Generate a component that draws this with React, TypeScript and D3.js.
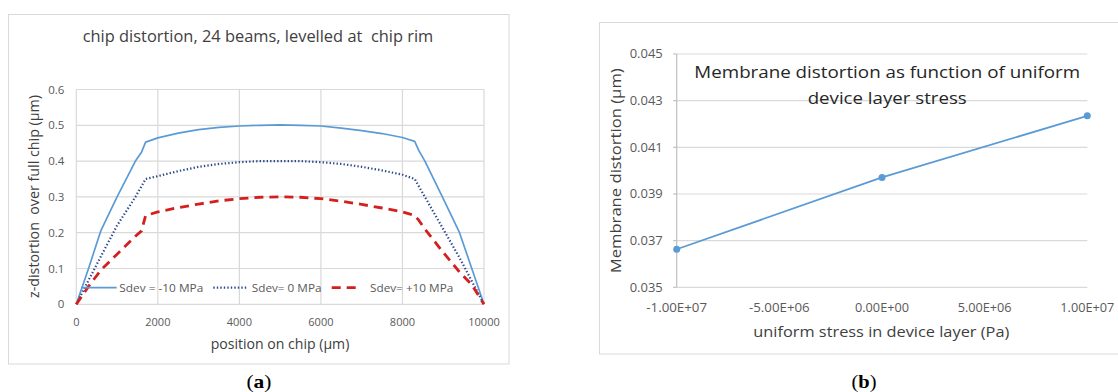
import React from "react";
import * as d3 from "d3";

// Panel (a): chip distortion profiles
const positions = [0, 300, 600, 1000, 1450, 1600, 1700, 2000, 2500, 3000, 3500, 4000, 4500, 5000, 5500, 6000, 6500, 7000, 7500, 8000, 8300, 8400, 8550, 9000, 9400, 9700, 10000];
const sdevMinus10 = [0, 0.10, 0.205, 0.30, 0.40, 0.425, 0.453, 0.465, 0.478, 0.488, 0.494, 0.498, 0.5, 0.501, 0.5, 0.498, 0.492, 0.485, 0.477, 0.466, 0.455, 0.43, 0.40, 0.295, 0.20, 0.10, 0];
const sdevZero = [0, 0.067, 0.133, 0.22, 0.30, 0.33, 0.35, 0.358, 0.372, 0.384, 0.392, 0.397, 0.4, 0.4, 0.4, 0.397, 0.392, 0.384, 0.374, 0.362, 0.35, 0.33, 0.30, 0.21, 0.13, 0.065, 0];
const sdevPlus10 = [0, 0.05, 0.095, 0.14, 0.19, 0.205, 0.248, 0.258, 0.27, 0.28, 0.289, 0.295, 0.299, 0.3, 0.299, 0.295, 0.288, 0.279, 0.269, 0.258, 0.248, 0.235, 0.21, 0.145, 0.09, 0.055, 0];
const seriesNames = ["Sdev = -10 MPa", "Sdev= 0 MPa", "Sdev= +10 MPa"];
const xTicksA = [0, 2000, 4000, 6000, 8000, 10000];
const yTicksA = [0, 0.1, 0.2, 0.3, 0.4, 0.5, 0.6];

// Panel (b): membrane distortion vs uniform stress
const stress = [-1e7, 0, 1e7];
const membrane = [0.03663, 0.03971, 0.04235];
const xTicksB = [-1e7, -5e6, 0, 5e6, 1e7];
const xTickLabelsB = ["-1.00E+07", "-5.00E+06", "0.00E+00", "5.00E+06", "1.00E+07"];
const yTicksB = [0.035, 0.037, 0.039, 0.041, 0.043, 0.045];

const FONT = "'Open Sans', Lato, sans-serif";
const GRID = "#d9d9d9";

type TProps = {
  x: number; y: number; s: string; size: number; w?: number;
  anchor?: "start" | "middle" | "end"; fill?: string; rotate?: boolean;
};

function T({ x, y, s, size, w, anchor = "middle", fill = "#404040", rotate }: TProps) {
  return (
    <text
      x={x}
      y={y}
      fontSize={size}
      fontFamily={FONT}
      textAnchor={anchor}
      fill={fill}
      style={{ whiteSpace: "pre" }}
      dominantBaseline={rotate ? "central" : undefined}
      transform={rotate ? `rotate(-90 ${x} ${y})` : undefined}
      textLength={w}
      lengthAdjust={w ? "spacingAndGlyphs" : undefined}
    >
      {s}
    </text>
  );
}

export default function App() {
  // ---- panel (a) scales
  const xA = d3.scaleLinear().domain([0, 10000]).range([76.3, 484]);
  const yA = d3.scaleLinear().domain([0, 0.6]).range([304.3, 89.5]);
  const lineA = (vals: number[]) =>
    d3.line<number>().x((_, i) => xA(positions[i])).y((v) => yA(v))(vals) || "";

  const styles = [
    { stroke: "#5b9bd5", width: 1.7, dash: undefined as string | undefined, cap: "butt" },
    { stroke: "#2e4b8f", width: 2.2, dash: "1.4 2.1", cap: "butt" },
    { stroke: "#d41f1f", width: 2.8, dash: "9 6", cap: "butt" },
  ];
  const seriesA = [sdevMinus10, sdevZero, sdevPlus10];
  const legendLines = [[81, 116.7], [213.3, 246.4], [331.7, 360]];
  const legendText = [[119.3, 84], [251.8, 69.7], [370, 83.3]];
  const legendY = 287.7;

  // ---- panel (b) scales
  const xB = d3.scaleLinear().domain([-1e7, 1e7]).range([676.7, 1087.3]);
  const yB = d3.scaleLinear().domain([0.035, 0.045]).range([287.3, 54]);
  const lineB = d3.line<number>().x((_, i) => xB(stress[i])).y((v) => yB(v))(membrane) || "";

  return (
    <svg width={1118} height={392} style={{ position: "absolute", left: 0, top: 0, background: "#fff" }}>
      {/* ================= panel (a) ================= */}
      <rect x={8.5} y={14.5} width={500.5} height={349.5} fill="#fff" stroke={GRID} strokeWidth={1} />
      <T x={258} y={42.3} s="chip distortion, 24 beams, levelled at  chip rim" size={16.5} w={350.6} />

      {yTicksA.map((t) => (
        <line key={"gy" + t} x1={xA(0)} x2={xA(10000)} y1={yA(t)} y2={yA(t)} stroke={GRID} strokeWidth={1.2} />
      ))}
      {xTicksA.map((t) => (
        <line key={"gx" + t} x1={xA(t)} x2={xA(t)} y1={yA(0)} y2={yA(0.6)} stroke={GRID} strokeWidth={1.2} />
      ))}
      {yTicksA.map((t) => (
        <T key={"ly" + t} x={64.3} y={yA(t) + 4} s={String(+t.toFixed(1))} size={11.5} anchor="end" fill="#595959" />
      ))}
      {xTicksA.map((t) => (
        <T key={"lx" + t} x={xA(t)} y={326} s={String(t)} size={11.5} fill="#595959" w={String(t).length * 6.3} />
      ))}

      {seriesA.map((vals, i) => (
        <path key={"s" + i} d={lineA(vals)} fill="none" stroke={styles[i].stroke} strokeWidth={styles[i].width}
          strokeDasharray={styles[i].dash} strokeLinejoin="round" />
      ))}

      {seriesNames.map((name, i) => (
        <g key={"lg" + i}>
          <line x1={legendLines[i][0]} x2={legendLines[i][1]} y1={legendY} y2={legendY} stroke={styles[i].stroke}
            strokeWidth={styles[i].width} strokeDasharray={styles[i].dash} />
          <T x={legendText[i][0]} y={legendY + 4.2} s={name} size={11.5} anchor="start" fill="#595959" w={legendText[i][1]} />
        </g>
      ))}

      <T x={280} y={349} s="position on chip (µm)" size={14.5} w={138.6} />
      <T x={33} y={196.5} s="z-distortion  over full chip (µm)" size={14.5} w={203} rotate />

      <text x={259} y={388} fontSize={19} fontFamily="'Liberation Serif', serif" textAnchor="middle" fill="#000"
        textLength={25} lengthAdjust="spacingAndGlyphs">
        (<tspan fontWeight="bold">a</tspan>)
      </text>

      {/* ================= panel (b) ================= */}
      <rect x={599.5} y={22.5} width={540} height={331.5} fill="#fff" stroke={GRID} strokeWidth={1} />

      {yTicksB.map((t) => (
        <line key={"gby" + t} x1={xB(-1e7)} x2={xB(1e7)} y1={yB(t)} y2={yB(t)} stroke={GRID} strokeWidth={1.2} />
      ))}
      <line x1={xB(-1e7)} x2={xB(-1e7)} y1={yB(0.045)} y2={yB(0.035)} stroke="#bfbfbf" strokeWidth={1.2} />
      {yTicksB.map((t) => (
        <line key={"tby" + t} x1={xB(-1e7) - 3.5} x2={xB(-1e7)} y1={yB(t)} y2={yB(t)} stroke="#bfbfbf" strokeWidth={1.2} />
      ))}
      {yTicksB.map((t) => (
        <T key={"lby" + t} x={662.7} y={yB(t) + 4.2} s={t.toFixed(3)} size={12} anchor="end" fill="#595959" w={33} />
      ))}
      {xTicksB.map((t, i) => (
        <T key={"lbx" + t} x={xB(t)} y={311.7} s={xTickLabelsB[i]} size={12} fill="#595959"
          w={xTickLabelsB[i].length * 6.75} />
      ))}

      <path d={lineB} fill="none" stroke="#5b9bd5" strokeWidth={1.8} />
      {membrane.map((v, i) => (
        <circle key={"pt" + i} cx={xB(stress[i])} cy={yB(v)} r={3.5} fill="#5b9bd5" />
      ))}

      <T x={887.2} y={78.3} s="Membrane distortion as function of uniform" size={17} w={385.7} fill="#262626" />
      <T x={887.2} y={104} s="device layer stress" size={17} w={159} fill="#262626" />

      <T x={881.3} y={336.7} s="uniform stress in device layer (Pa)" size={14.5} w={256} />
      <T x={614.8} y={170.8} s="Membrane distortion (µm)" size={15} w={205} rotate />

      <text x={864} y={388} fontSize={19} fontFamily="'Liberation Serif', serif" textAnchor="middle" fill="#000"
        textLength={25} lengthAdjust="spacingAndGlyphs">
        (<tspan fontWeight="bold">b</tspan>)
      </text>
    </svg>
  );
}
